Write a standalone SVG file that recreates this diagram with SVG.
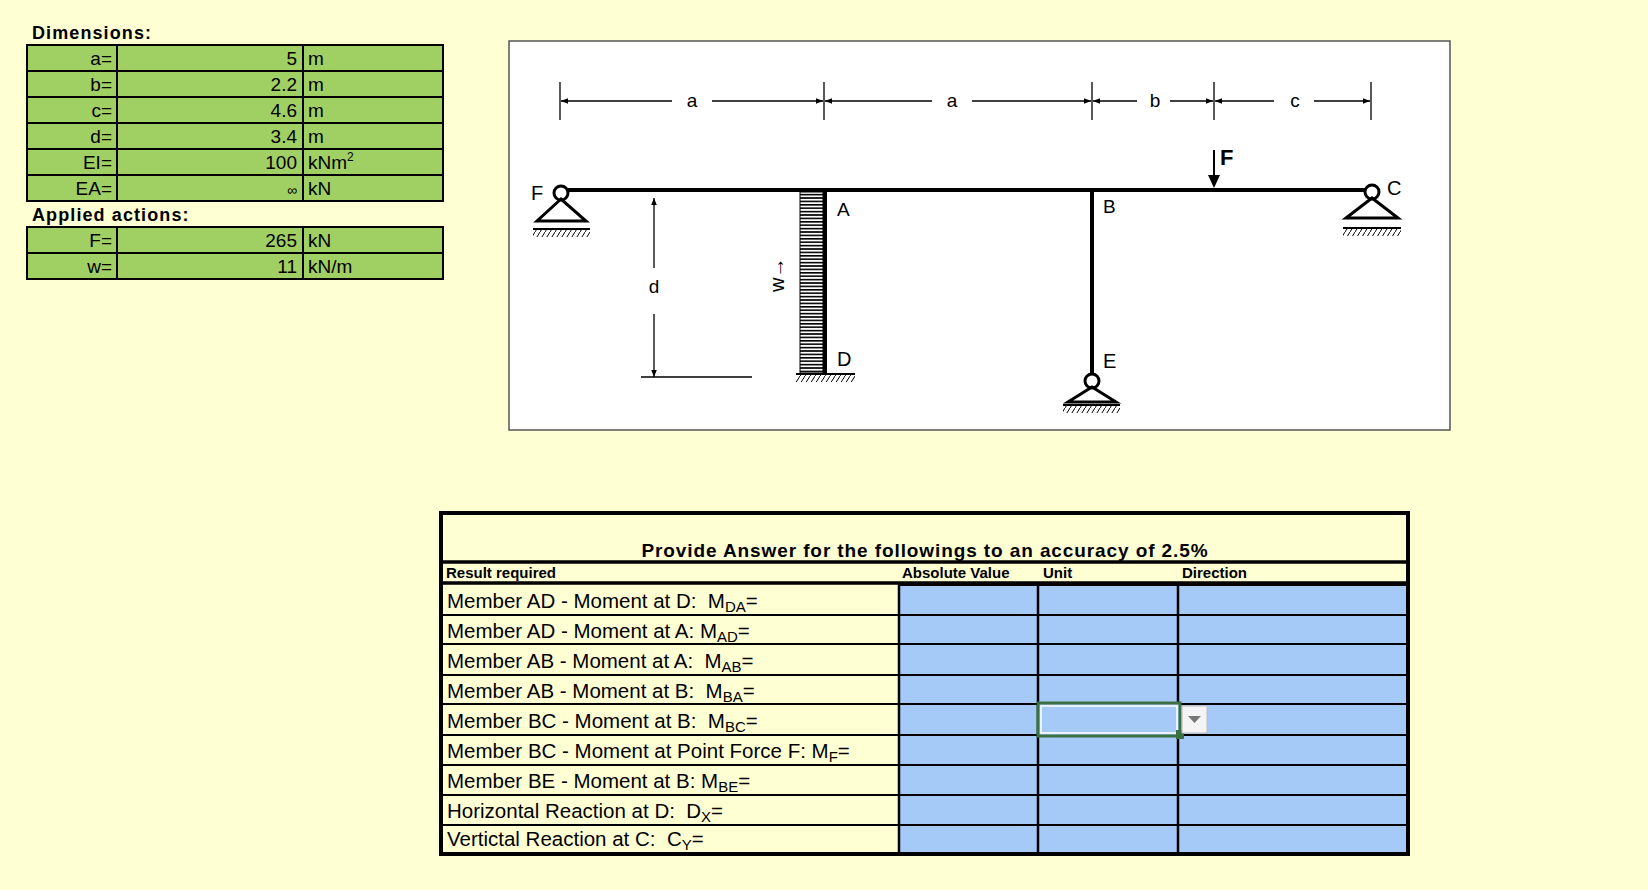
<svg xmlns="http://www.w3.org/2000/svg" width="1648" height="890" viewBox="0 0 1648 890">
<defs>
<style>
.t{font-family:"Liberation Sans",Arial,sans-serif;fill:#000}
.cell{fill:#A0CF64;stroke:#000;stroke-width:2}
.ans{fill:#A6CAF7;stroke:#000;stroke-width:2}
.mem{stroke:#000;stroke-width:4;fill:none}
.thin{stroke:#000;stroke-width:1.3;fill:none}
.gnd{stroke:#000;stroke-width:2}
</style>
<marker id="ah" viewBox="0 0 10 10" refX="10" refY="5" markerWidth="10" markerHeight="7" orient="auto" markerUnits="userSpaceOnUse"><path d="M0,1 L10,5 L0,9 Z" fill="#000"/></marker>
<pattern id="hatch" width="5" height="8" patternUnits="userSpaceOnUse"><path d="M5,0 L0,8" stroke="#000" stroke-width="1"/></pattern>
<pattern id="load" width="10" height="3.4" patternUnits="userSpaceOnUse"><rect width="10" height="3.4" fill="#fff"/><rect width="10" height="1.6" fill="#000"/></pattern>
</defs>
<rect width="1648" height="890" fill="#FFFFD4"/>

<g id="dims-table">
<text class="t" x="32" y="39" font-size="18" font-weight="bold" letter-spacing="1.1">Dimensions:</text>
<g font-size="19">
<rect class="cell" x="27" y="45" width="90" height="26"/><rect class="cell" x="117" y="45" width="186" height="26"/><rect class="cell" x="303" y="45" width="140" height="26"/>
<rect class="cell" x="27" y="71" width="90" height="26"/><rect class="cell" x="117" y="71" width="186" height="26"/><rect class="cell" x="303" y="71" width="140" height="26"/>
<rect class="cell" x="27" y="97" width="90" height="26"/><rect class="cell" x="117" y="97" width="186" height="26"/><rect class="cell" x="303" y="97" width="140" height="26"/>
<rect class="cell" x="27" y="123" width="90" height="26"/><rect class="cell" x="117" y="123" width="186" height="26"/><rect class="cell" x="303" y="123" width="140" height="26"/>
<rect class="cell" x="27" y="149" width="90" height="26"/><rect class="cell" x="117" y="149" width="186" height="26"/><rect class="cell" x="303" y="149" width="140" height="26"/>
<rect class="cell" x="27" y="175" width="90" height="26"/><rect class="cell" x="117" y="175" width="186" height="26"/><rect class="cell" x="303" y="175" width="140" height="26"/>
<text class="t" text-anchor="end" x="112" y="65">a=</text><text class="t" text-anchor="end" x="297" y="65">5</text><text class="t" x="308" y="65">m</text>
<text class="t" text-anchor="end" x="112" y="91">b=</text><text class="t" text-anchor="end" x="297" y="91">2.2</text><text class="t" x="308" y="91">m</text>
<text class="t" text-anchor="end" x="112" y="117">c=</text><text class="t" text-anchor="end" x="297" y="117">4.6</text><text class="t" x="308" y="117">m</text>
<text class="t" text-anchor="end" x="112" y="143">d=</text><text class="t" text-anchor="end" x="297" y="143">3.4</text><text class="t" x="308" y="143">m</text>
<text class="t" text-anchor="end" x="112" y="169">EI=</text><text class="t" text-anchor="end" x="297" y="169">100</text><text class="t" x="308" y="169">kNm<tspan font-size="12" dy="-8">2</tspan></text>
<text class="t" text-anchor="end" x="112" y="195">EA=</text><text class="t" text-anchor="end" x="297" y="195" font-size="14">∞</text><text class="t" x="308" y="195">kN</text>
</g>
<text class="t" x="32" y="221" font-size="18" font-weight="bold" letter-spacing="1.1">Applied actions:</text>
<g font-size="19">
<rect class="cell" x="27" y="227" width="90" height="26"/><rect class="cell" x="117" y="227" width="186" height="26"/><rect class="cell" x="303" y="227" width="140" height="26"/>
<rect class="cell" x="27" y="253" width="90" height="26"/><rect class="cell" x="117" y="253" width="186" height="26"/><rect class="cell" x="303" y="253" width="140" height="26"/>
<text class="t" text-anchor="end" x="112" y="247">F=</text><text class="t" text-anchor="end" x="297" y="247">265</text><text class="t" x="308" y="247">kN</text>
<text class="t" text-anchor="end" x="112" y="273">w=</text><text class="t" text-anchor="end" x="297" y="273">11</text><text class="t" x="308" y="273">kN/m</text>
</g>
</g>

<g id="frame-diagram">
<rect x="509" y="41" width="941" height="389" fill="#fff" stroke="#555" stroke-width="1.5"/>
<g id="dimensions">
<path class="thin" d="M560,82V120M824,82V120M1092,82V120M1214,82V120M1371,82V120"/>
<path class="thin" marker-end="url(#ah)" d="M672,101H561"/><path class="thin" marker-end="url(#ah)" d="M712,101H823"/>
<path class="thin" marker-end="url(#ah)" d="M932,101H825"/><path class="thin" marker-end="url(#ah)" d="M972,101H1091"/>
<path class="thin" marker-end="url(#ah)" d="M1137,101H1093"/><path class="thin" marker-end="url(#ah)" d="M1170,101H1213"/>
<path class="thin" marker-end="url(#ah)" d="M1274,101H1215"/><path class="thin" marker-end="url(#ah)" d="M1314,101H1370"/>
<g font-size="19" text-anchor="middle" fill="#333"><text class="t" x="692" y="107">a</text><text class="t" x="952" y="107">a</text><text class="t" x="1155" y="107">b</text><text class="t" x="1295" y="107">c</text></g>
<path class="thin" marker-end="url(#ah)" d="M654,268V198"/><path class="thin" marker-end="url(#ah)" d="M654,314V377"/>
<path class="thin" d="M641,377H752"/>
<text class="t" x="654" y="293" font-size="19" text-anchor="middle">d</text>
</g>
<g id="load-w">
<rect x="800" y="192" width="23" height="181" fill="url(#load)" stroke="#000" stroke-width="1"/>
<text class="t" font-size="20" transform="translate(784,292) rotate(-90)">w→</text>
</g>
<g id="members">
<path class="mem" d="M564,190H1368"/>
<path class="mem" d="M825,190V374"/>
<path class="mem" d="M1092,190V374"/>
</g>
<g id="support-F">
<circle cx="561" cy="193" r="7" fill="#fff" stroke="#000" stroke-width="3"/>
<path d="M561,199L537,221H586Z" fill="none" stroke="#000" stroke-width="3"/>
<path class="gnd" d="M533,229H590"/><rect x="533" y="230" width="57" height="7" fill="url(#hatch)"/>
<text class="t" x="531" y="200" font-size="20">F</text>
</g>
<g id="support-D">
<path class="gnd" d="M796,374H855"/><rect x="796" y="375" width="59" height="7" fill="url(#hatch)"/>
<text class="t" x="837" y="216" font-size="19">A</text>
<text class="t" x="837" y="366" font-size="20">D</text>
</g>
<g id="support-E">
<circle cx="1092" cy="381" r="7" fill="#fff" stroke="#000" stroke-width="3"/>
<path d="M1092,387L1068,402H1116Z" fill="none" stroke="#000" stroke-width="3"/>
<path class="gnd" d="M1063,405H1120"/><rect x="1063" y="406" width="57" height="7" fill="url(#hatch)"/>
<text class="t" x="1103" y="213" font-size="19">B</text>
<text class="t" x="1103" y="368" font-size="20">E</text>
</g>
<g id="support-C">
<circle cx="1372" cy="192" r="7" fill="#fff" stroke="#000" stroke-width="3"/>
<path d="M1372,198L1346,218H1398Z" fill="none" stroke="#000" stroke-width="3"/>
<path class="gnd" d="M1343,228H1401"/><rect x="1343" y="229" width="58" height="7" fill="url(#hatch)"/>
<text class="t" x="1387" y="195" font-size="20">C</text>
</g>
<g id="force-F">
<path d="M1214,150V176" stroke="#000" stroke-width="2"/><path d="M1208,175L1214,188L1220,175Z" fill="#000"/>
<text class="t" x="1220" y="165" font-size="22" font-weight="bold">F</text>
</g>
</g>

<g id="answer-table">
<rect x="441" y="513" width="967" height="341" fill="#FFFFD4" stroke="#000" stroke-width="4"/>
<path d="M441,562H1408M441,583H1408" stroke="#000" stroke-width="3.5"/>
<rect class="ans" x="899" y="585" width="509" height="269" stroke="none"/>
<path d="M441,615H1408M441,644H1408M441,675H1408M441,704H1408M441,735H1408M441,765H1408M441,795H1408M441,825H1408" stroke="#000" stroke-width="2"/>
<path d="M899,584V854M1038,584V854M1178,584V854" stroke="#000" stroke-width="2.5"/>
<rect x="441" y="513" width="967" height="341" fill="none" stroke="#000" stroke-width="4"/>
<text class="t" x="925" y="557" font-size="19" font-weight="bold" letter-spacing="0.9" text-anchor="middle">Provide Answer for the followings to an accuracy of 2.5%</text>
<g font-size="15" font-weight="bold">
<text class="t" x="446" y="578">Result required</text>
<text class="t" x="902" y="578">Absolute Value</text>
<text class="t" x="1043" y="578">Unit</text>
<text class="t" x="1182" y="578">Direction</text>
</g>
<g font-size="20.5">
<text class="t" x="447" y="608">Member AD - Moment at D:&#160; M<tspan font-size="15" dy="4">DA</tspan><tspan dy="-4">=</tspan></text>
<text class="t" x="447" y="638">Member AD - Moment at A: M<tspan font-size="15" dy="4">AD</tspan><tspan dy="-4">=</tspan></text>
<text class="t" x="447" y="668">Member AB - Moment at A:&#160; M<tspan font-size="15" dy="4">AB</tspan><tspan dy="-4">=</tspan></text>
<text class="t" x="447" y="698">Member AB - Moment at B:&#160; M<tspan font-size="15" dy="4">BA</tspan><tspan dy="-4">=</tspan></text>
<text class="t" x="447" y="728">Member BC - Moment at B:&#160; M<tspan font-size="15" dy="4">BC</tspan><tspan dy="-4">=</tspan></text>
<text class="t" x="447" y="758">Member BC - Moment at Point Force F: M<tspan font-size="15" dy="4">F</tspan><tspan dy="-4">=</tspan></text>
<text class="t" x="447" y="788">Member BE - Moment at B: M<tspan font-size="15" dy="4">BE</tspan><tspan dy="-4">=</tspan></text>
<text class="t" x="447" y="818">Horizontal Reaction at D:&#160; D<tspan font-size="15" dy="4">X</tspan><tspan dy="-4">=</tspan></text>
<text class="t" x="447" y="846">Vertictal Reaction at C:&#160; C<tspan font-size="15" dy="4">Y</tspan><tspan dy="-4">=</tspan></text>
</g>
<g id="selection">
<rect x="1038" y="703" width="142" height="33" fill="#A6CAF7" stroke="#3B7043" stroke-width="3"/>
<rect x="1041" y="706" width="136" height="27" fill="none" stroke="#fff" stroke-width="1.5"/>
<rect x="1176" y="730" width="8" height="9" fill="#3B7043"/>
<rect x="1182" y="706" width="25" height="27" fill="#F4F4F4" stroke="#BBB" stroke-width="1"/>
<path d="M1188,716L1201,716L1194.5,723Z" fill="#777"/>
</g>
</g>
</svg>
